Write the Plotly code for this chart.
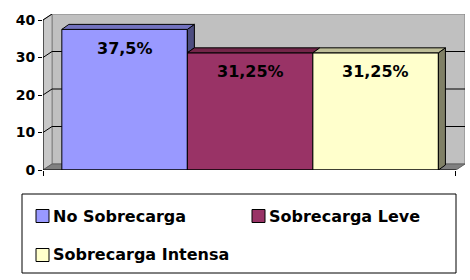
import plotly.graph_objects as go

# ---- data ----
categories = ["No Sobrecarga", "Sobrecarga Leve", "Sobrecarga Intensa"]
values = [37.5, 31.25, 31.25]
value_labels = ["37,5%", "31,25%", "31,25%"]
y_ticks = [0, 10, 20, 30, 40]

# ---- styles ----
front_colors = ["#9999FF", "#993366", "#FFFFCC"]
top_colors = ["#7373BF", "#732649", "#BFBF99"]
side_colors = ["#4D4D80", "#4D1A33", "#808066"]
FONT = "DejaVu Sans"

W, H = 470, 280
ML, MR, MT, MB = 43, 5, 14, 110
PW, PH = W - ML - MR, H - MT - MB

bar_w = 1.0
xL, xR = -0.65, 2.64          # front plane left / right (data units)
dx, dy = 0.072, 1.6           # wall depth offset
bdx, bdy = 0.056, 1.33        # bar depth offset
ymax = 40

fig = go.Figure()

# bar front faces
for i, (c, v) in enumerate(zip(categories, values)):
    fig.add_trace(go.Bar(x=[i], y=[v], width=bar_w, name=c,
                         marker=dict(color=front_colors[i], line=dict(color="black", width=1)),
                         showlegend=False, hoverinfo="skip"))

# bar side faces (visible part above the next bar's height)
for i, v in enumerate(values):
    x1 = i + bar_w / 2
    base = values[i + 1] if i + 1 < len(values) else 0
    if base >= v:
        continue
    fig.add_trace(go.Scatter(x=[x1, x1, x1 + bdx, x1 + bdx, x1],
                             y=[base, v, v + bdy, base + bdy, base],
                             fill="toself", fillcolor=side_colors[i], mode="lines",
                             line=dict(color="black", width=1), showlegend=False, hoverinfo="skip"))
# bar top faces
for i, v in enumerate(values):
    x0, x1 = i - bar_w / 2, i + bar_w / 2
    fig.add_trace(go.Scatter(x=[x0, x1, x1 + bdx, x0 + bdx, x0],
                             y=[v, v, v + bdy, v + bdy, v],
                             fill="toself", fillcolor=top_colors[i], mode="lines",
                             line=dict(color="black", width=1), showlegend=False, hoverinfo="skip"))

shapes = []
# back wall
shapes.append(dict(type="rect", xref="x", yref="y", x0=xL + dx, x1=xR + dx, y0=dy, y1=ymax + dy,
                   fillcolor="#C0C0C0", line=dict(color="#808080", width=1), layer="below"))
# side wall
shapes.append(dict(type="path", xref="x", yref="y",
                   path=f"M{xL},0 L{xL},{ymax} L{xL+dx},{ymax+dy} L{xL+dx},{dy} Z",
                   fillcolor="#C8C8C8", line=dict(color="#808080", width=1), layer="below"))
# floor
shapes.append(dict(type="path", xref="x", yref="y",
                   path=f"M{xL},0 L{xR},0 L{xR+dx},{dy} L{xL+dx},{dy} Z",
                   fillcolor="#808080", line=dict(color="#606060", width=1), layer="below"))
# gridlines
for t in y_ticks[1:-1]:
    shapes.append(dict(type="line", xref="x", yref="y", x0=xL + dx, x1=xR + dx, y0=t + dy, y1=t + dy,
                       line=dict(color="black", width=1), layer="below"))
for t in y_ticks[1:]:
    shapes.append(dict(type="line", xref="x", yref="y", x0=xL, x1=xL + dx, y0=t, y1=t + dy,
                       line=dict(color="black", width=1), layer="below"))
# front axis lines
shapes.append(dict(type="line", xref="x", yref="y", x0=xL, x1=xL, y0=0, y1=ymax,
                   line=dict(color="black", width=1)))
shapes.append(dict(type="line", xref="x", yref="y", x0=xL, x1=xR, y0=0, y1=0,
                   line=dict(color="black", width=1)))

annotations = []
for i, (v, lab) in enumerate(zip(values, value_labels)):
    annotations.append(dict(x=i, y=v, xref="x", yref="y", text=lab, showarrow=False,
                            yanchor="middle", yshift=-19,
                            font=dict(family=FONT, size=16, color="black", weight="bold")))

# manual legend (paper coords from pixels)
def px(x):
    return (x - ML) / PW

def py(y):
    return (H - MB - y) / PH

shapes.append(dict(type="rect", xref="paper", yref="paper", x0=px(22), x1=px(456), y0=py(194), y1=py(273),
                   fillcolor="white", line=dict(color="black", width=1)))
legend_pos = [(36, 216), (252, 216), (36, 255)]
for i, c in enumerate(categories):
    sx, sy = legend_pos[i]
    shapes.append(dict(type="rect", xref="paper", yref="paper", x0=px(sx), x1=px(sx + 13),
                       y0=py(sy - 6.5), y1=py(sy + 6.5),
                       fillcolor=front_colors[i], line=dict(color="black", width=1)))
    annotations.append(dict(x=px(sx + 15), y=py(sy), xref="paper", yref="paper", text=c,
                            showarrow=False, xanchor="left", yanchor="middle",
                            font=dict(family=FONT, size=16, color="black", weight="bold")))

fig.update_layout(
    width=W, height=H, margin=dict(l=ML, r=MR, t=MT, b=MB),
    paper_bgcolor="white", plot_bgcolor="white",
    barmode="overlay", showlegend=False,
    xaxis=dict(range=[xL, xR + dx], showgrid=False, zeroline=False, showline=False,
               tickvals=[xL, xR], ticktext=["", ""], ticks="outside", ticklen=5,
               tickcolor="black", fixedrange=True),
    yaxis=dict(range=[0, ymax + dy], showgrid=False, zeroline=False, showline=False,
               tickvals=y_ticks, ticks="outside", ticklen=4, tickcolor="black",
               tickfont=dict(family=FONT, size=14, color="black", weight="bold"), fixedrange=True),
    shapes=shapes, annotations=annotations,
)

fig.write_html("out.html")
